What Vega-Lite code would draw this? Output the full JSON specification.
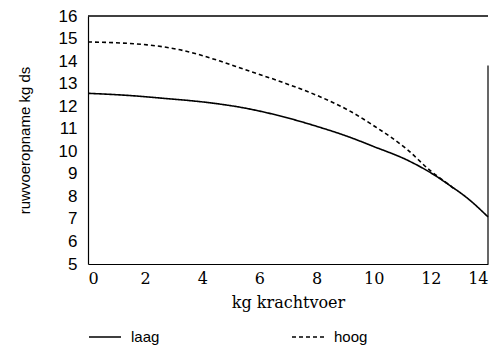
{
  "$schema": "https://vega.github.io/schema/vega-lite/v6.json",
  "width": 400,
  "height": 248,
  "autosize": {"type": "none"},
  "padding": {"left": 88, "top": 16, "right": 12, "bottom": 81},
  "background": "white",
  "config": {
    "view": {"stroke": null},
    "axis": {"domainColor": "black", "domainWidth": 1.2, "labelColor": "black", "titleColor": "black", "grid": false, "ticks": false, "titleFontWeight": "normal", "labelOverlap": false}
  },
  "layer": [
    {
      "data": {
        "values": [
          {"kg": 0, "ds": 12.57, "serie": "laag"},
          {"kg": 1.37, "ds": 12.48, "serie": "laag"},
          {"kg": 2.63, "ds": 12.35, "serie": "laag"},
          {"kg": 4.27, "ds": 12.15, "serie": "laag"},
          {"kg": 5.43, "ds": 11.93, "serie": "laag"},
          {"kg": 6.62, "ds": 11.6, "serie": "laag"},
          {"kg": 8.02, "ds": 11.1, "serie": "laag"},
          {"kg": 9.17, "ds": 10.62, "serie": "laag"},
          {"kg": 9.98, "ds": 10.22, "serie": "laag"},
          {"kg": 11.17, "ds": 9.61, "serie": "laag"},
          {"kg": 12.08, "ds": 8.98, "serie": "laag"},
          {"kg": 12.67, "ds": 8.48, "serie": "laag"},
          {"kg": 13.27, "ds": 7.93, "serie": "laag"},
          {"kg": 14, "ds": 7.09, "serie": "laag"},
          {"kg": 0, "ds": 14.85, "serie": "hoog"},
          {"kg": 2.07, "ds": 14.72, "serie": "hoog"},
          {"kg": 3.22, "ds": 14.5, "serie": "hoog"},
          {"kg": 4.62, "ds": 14.0, "serie": "hoog"},
          {"kg": 5.43, "ds": 13.65, "serie": "hoog"},
          {"kg": 6.83, "ds": 13.05, "serie": "hoog"},
          {"kg": 8.12, "ds": 12.42, "serie": "hoog"},
          {"kg": 9.17, "ds": 11.78, "serie": "hoog"},
          {"kg": 9.98, "ds": 11.15, "serie": "hoog"},
          {"kg": 11.17, "ds": 10.08, "serie": "hoog"},
          {"kg": 11.97, "ds": 9.15, "serie": "hoog"},
          {"kg": 12.6, "ds": 8.55, "serie": "hoog"},
          {"kg": 12.85, "ds": 8.3, "serie": "hoog"}
        ]
      },
      "mark": {"type": "line", "color": "black", "strokeWidth": 1.6, "interpolate": "monotone"},
      "encoding": {
        "x": {
          "field": "kg", "type": "quantitative",
          "scale": {"domain": [0, 14], "nice": false, "zero": false},
          "axis": {"title": "kg krachtvoer", "values": [0, 2, 4, 6, 8, 10, 12, 14], "labelOverlap": false, "labelFont": "DejaVu Serif", "labelFontSize": 16, "labelPadding": 6, "titleFont": "DejaVu Serif", "titleFontSize": 16, "titlePadding": 8}
        },
        "y": {
          "field": "ds", "type": "quantitative",
          "scale": {"domain": [5, 16], "nice": false, "zero": false},
          "axis": {"title": "ruwvoeropname kg ds", "values": [5, 6, 7, 8, 9, 10, 11, 12, 13, 14, 15, 16], "labelOverlap": false, "labelFont": "Liberation Sans", "labelFontSize": 17, "labelPadding": 11, "titleFont": "Liberation Sans", "titleFontSize": 15, "titlePadding": 26}
        },
        "strokeDash": {
          "field": "serie", "type": "nominal",
          "scale": {"domain": ["laag", "hoog"], "range": [[1, 0], [4, 3]]},
          "legend": {"orient": "none", "legendX": 0, "legendY": 304, "direction": "horizontal", "title": null, "symbolType": "stroke", "symbolSize": 1024, "symbolStrokeColor": "black", "symbolStrokeWidth": 1.6, "labelFont": "Liberation Sans", "labelFontSize": 15, "labelColor": "black", "labelOffset": 9, "columnPadding": 128}
        },
        "order": {"field": "kg", "type": "quantitative"}
      }
    },
    {
      "data": {"values": [{"ds": 16}]},
      "mark": {"type": "rule", "color": "black", "strokeWidth": 1.4},
      "encoding": {
        "y": {"field": "ds", "type": "quantitative",
          "axis": {"title": "ruwvoeropname kg ds", "values": [5, 6, 7, 8, 9, 10, 11, 12, 13, 14, 15, 16], "labelOverlap": false, "labelFont": "Liberation Sans", "labelFontSize": 17, "labelPadding": 11, "titleFont": "Liberation Sans", "titleFontSize": 15, "titlePadding": 26}}
      }
    },
    {
      "data": {"values": [{"kg": 14, "ds": 5, "ds2": 13.8}]},
      "mark": {"type": "rule", "color": "black", "strokeWidth": 1.2},
      "encoding": {
        "x": {"field": "kg", "type": "quantitative",
          "axis": {"title": "kg krachtvoer", "values": [0, 2, 4, 6, 8, 10, 12, 14], "labelOverlap": false, "labelFont": "DejaVu Serif", "labelFontSize": 16, "labelPadding": 6, "titleFont": "DejaVu Serif", "titleFontSize": 16, "titlePadding": 8}},
        "y": {"field": "ds", "type": "quantitative",
          "axis": {"title": "ruwvoeropname kg ds", "values": [5, 6, 7, 8, 9, 10, 11, 12, 13, 14, 15, 16], "labelOverlap": false, "labelFont": "Liberation Sans", "labelFontSize": 17, "labelPadding": 11, "titleFont": "Liberation Sans", "titleFontSize": 15, "titlePadding": 26}},
        "y2": {"field": "ds2"}
      }
    }
  ]
}
